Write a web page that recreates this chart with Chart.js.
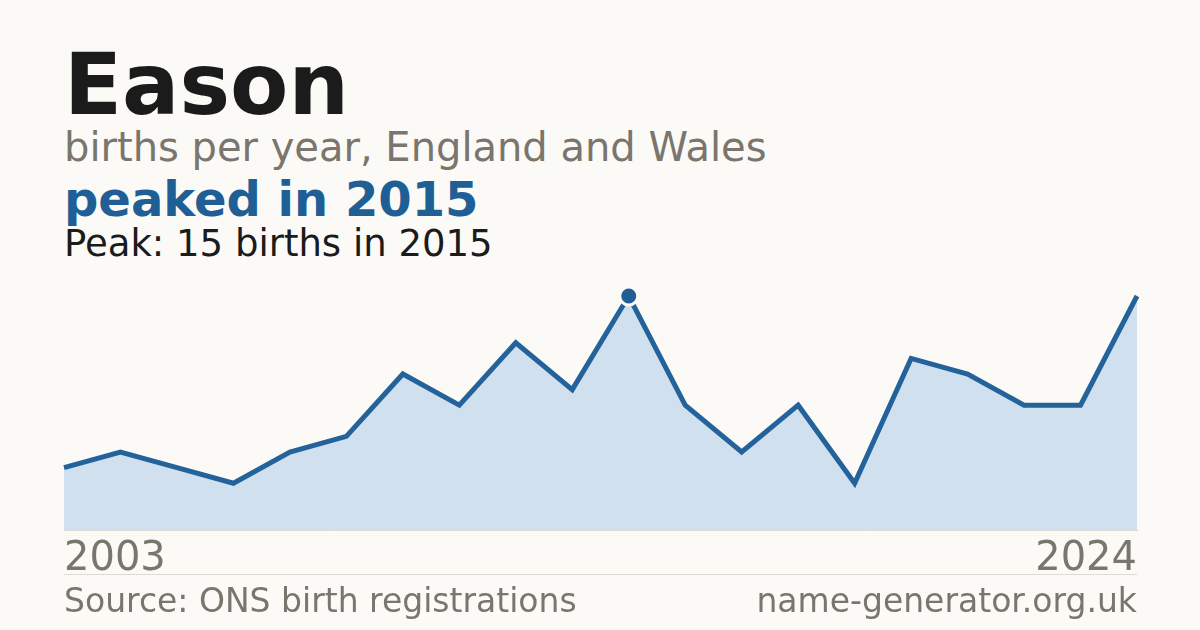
<!DOCTYPE html>
<html>
<head>
<meta charset="UTF-8">
<title>Eason</title>
<script src="https://cdn.jsdelivr.net/npm/chart.js@4/dist/chart.umd.min.js"></script>
<style>
	html, body { margin: 0; padding: 0; }
	body {
		width: 1200px; height: 630px; position: relative; overflow: hidden;
		background: #fbfaf6; font-family: "DejaVu Sans", sans-serif;
	}
	.t { position: absolute; left: 64px; line-height: 1; white-space: nowrap; }
	#name { top: 42px; font-size: 85px; font-weight: bold; color: #1b1b1b; }
	#sub { top: 127px; font-size: 40px; color: #7a756d; }
	#trend { top: 175px; font-size: 48px; font-weight: bold; color: #1f5f95; }
	#peak { top: 225px; font-size: 37px; color: #1b1b1b; }
	#rule { position: absolute; left: 64px; width: 1073px; top: 574px; height: 1px; background: #dedad2; }
	.foot { top: 584px; font-size: 33px; color: #7a756d; }
	#site { left: auto; right: 63px; }
	#wrap { position: absolute; left: 0; top: 270px; width: 1200px; height: 320px; }
</style>
</head>
<body>
	<div class="t" id="name">Eason</div>
	<div class="t" id="sub">births per year, England and Wales</div>
	<div class="t" id="trend">peaked in 2015</div>
	<div class="t" id="peak">Peak: 15 births in 2015</div>
	<div id="wrap"><canvas id="chart"></canvas></div>
	<div id="rule"></div>
	<div class="t foot" id="src">Source: ONS birth registrations</div>
	<div class="t foot" id="site">name-generator.org.uk</div>
<script>

// years with registrations (two early years not listed)
var years = ['2003', '2005', '2006', '2007', '2008', '2009', '2011', '2012', '2013', '2014',
	'2015', '2016', '2017', '2018', '2019', '2020', '2021', '2022', '2023', '2024'];
var births = [4, 5, 4, 3, 5, 6, 10, 8, 12, 9, 15, 8, 5, 8, 3, 11, 10, 8, 8, 15];

var peakIdx = births.indexOf(Math.max.apply(null, births));

var ctx = document.getElementById('chart').getContext('2d');
new Chart(ctx, {
	type: 'line',
	data: {
		labels: years,
		datasets: [{
			data: births,
			borderColor: '#23629a',
			borderWidth: 5,
			backgroundColor: '#d0e0ef',
			fill: 'origin',
			tension: 0,
			clip: false,
			pointRadius: function(c) { return c.dataIndex === peakIdx ? 9 : 0; },
			pointBackgroundColor: '#1f5f95',
			pointBorderColor: '#fbfaf6',
			pointBorderWidth: 3,
			pointHoverRadius: 0
		}]
	},
	options: {
		responsive: true,
		maintainAspectRatio: false,
		animation: false,
		layout: { padding: { left: 64, right: 63, top: 26, bottom: 0 } },
		plugins: { legend: { display: false }, tooltip: { enabled: false } },
		scales: {
			x: {
				offset: false,
				grid: { display: false, drawTicks: false },
				border: { display: true, color: '#dddad3', width: 1 },
				ticks: {
					autoSkip: false,
					maxRotation: 0,
					align: 'inner',
					padding: 6,
					color: '#7a756d',
					font: { family: 'DejaVu Sans', size: 40 },
					callback: function(v, i) {
						return (i === 0 || i === years.length - 1) ? years[i] : '';
					}
				}
			},
			y: { display: false, min: 0, max: 15 }
		}
	}
});

</script>
</body>
</html>
